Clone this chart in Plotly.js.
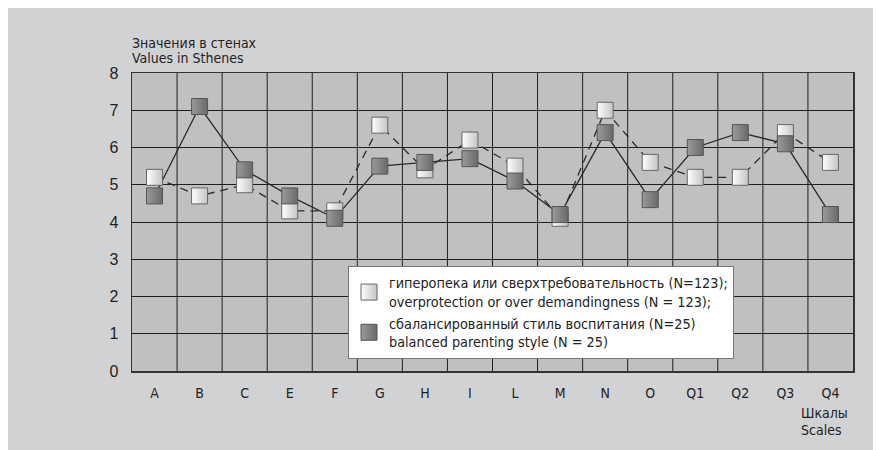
<!DOCTYPE html>
<html>
<head>
<meta charset="utf-8">
<script src="https://cdn.plot.ly/plotly-3.0.1.min.js"></script>
<style>
html,body{margin:0;padding:0;background:#fff;width:876px;height:450px;overflow:hidden}
#chart{position:absolute;left:8px;top:8px;width:865px;height:442px}
</style>
</head>
<body>
<div id="chart"></div>
<script>
const scales = ["A","B","C","E","F","G","H","I","L","M","N","O","Q1","Q2","Q3","Q4"];
const overprotection = [5.2,4.7,5.0,4.3,4.3,6.6,5.4,6.2,5.5,4.1,7.0,5.6,5.2,5.2,6.4,5.6];
const balanced = [4.7,7.1,5.4,4.7,4.1,5.5,5.6,5.7,5.1,4.2,6.4,4.6,6.0,6.4,6.1,4.2];
const yTicks = [0,1,2,3,4,5,6,7,8];
const nameOver = "гиперопека или сверхтребовательность (N=123);<br>overprotection or over demandingness (N = 123);";
const nameBal = "сбалансированный стиль воспитания (N=25)<br>balanced parenting style (N = 25)";
const yTitleLines = ["Значения в стенах", "Values in Sthenes"];
const xTitleLines = ["Шкалы", "Scales"];

const FONT = "'Liberation Sans Narrow', 'DejaVu Sans Condensed', 'Liberation Sans', sans-serif";
const W = 865, H = 442;
const M = {l: 124, r: 20, t: 65, b: 79};
const PW = W - M.l - M.r, PH = H - M.t - M.b;
const px = x => (x - 8 - M.l) / PW;
const py = y => (H - M.b - (y - 8)) / PH;

const traces = [
  {x: scales, y: overprotection, type: 'scatter', mode: 'lines', showlegend: false, hoverinfo: 'skip',
   line: {color: '#2a2a2a', width: 1.3, dash: '8px,6px'}},
  {x: scales, y: balanced, type: 'scatter', mode: 'lines', showlegend: false, hoverinfo: 'skip',
   line: {color: '#2a2a2a', width: 1.3}},
  {x: scales, y: overprotection, type: 'scatter', mode: 'markers', name: nameOver,
   marker: {symbol: 'square', size: 16, color: '#ffffff',
            gradient: {type: 'horizontal', color: '#c4c4c4'},
            line: {color: '#666', width: 1}}},
  {x: scales, y: balanced, type: 'scatter', mode: 'markers', name: nameBal,
   marker: {symbol: 'square', size: 16, color: '#9a9a9a',
            gradient: {type: 'horizontal', color: '#6a6a6a'},
            line: {color: '#555', width: 1}}}
];

const annFont = {family: FONT, size: 14, color: '#222'};
const layout = {
  width: W, height: H,
  margin: M,
  paper_bgcolor: '#d1d2d4',
  plot_bgcolor: '#bfc0c2',
  font: {family: FONT, color: '#222', size: 14},
  showlegend: true,
  legend: {
    x: px(348), y: py(266), xanchor: 'left', yanchor: 'top',
    bgcolor: '#ffffff', bordercolor: '#777', borderwidth: 1,
    font: {family: FONT, size: 14.3, color: '#222'},
    tracegroupgap: 0
  },
  xaxis: {
    type: 'category', categoryorder: 'array', categoryarray: scales,
    showgrid: false, zeroline: false,
    showline: true, linecolor: '#333', linewidth: 1.5, mirror: true,
    ticks: '', ticklabelstandoff: 9,
    tickfont: {family: FONT, size: 14, color: '#222'},
    range: [-0.5, 15.5], fixedrange: true
  },
  yaxis: {
    range: [0, 8], tickvals: yTicks, ticktext: yTicks.map(String),
    showgrid: true, gridcolor: '#1e1e1e', gridwidth: 1,
    zeroline: false, showline: true, linecolor: '#333', linewidth: 1.5, mirror: true,
    ticks: '', ticklabelstandoff: 9,
    tickfont: {family: "'Liberation Sans', sans-serif", size: 16, color: '#222'},
    fixedrange: true
  },
  shapes: scales.slice(1).map((s, i) => ({
     type: 'line', xref: 'x', yref: 'paper', layer: 'below',
     x0: i + 0.5, x1: i + 0.5, y0: 0, y1: 1,
     line: {color: '#1e1e1e', width: 1}
  })),
  annotations: [
    {text: yTitleLines[0], x: px(130), y: py(43)},
    {text: yTitleLines[1], x: px(130), y: py(58.5)},
    {text: xTitleLines[0], x: px(799), y: py(413)},
    {text: xTitleLines[1], x: px(799), y: py(430)}
  ].map(a => Object.assign({xref: 'paper', yref: 'paper', xanchor: 'left', yanchor: 'middle',
                            align: 'left', showarrow: false, font: annFont}, a))
};

Plotly.newPlot('chart', traces, layout, {displayModeBar: false, staticPlot: true});
</script>
</body>
</html>
